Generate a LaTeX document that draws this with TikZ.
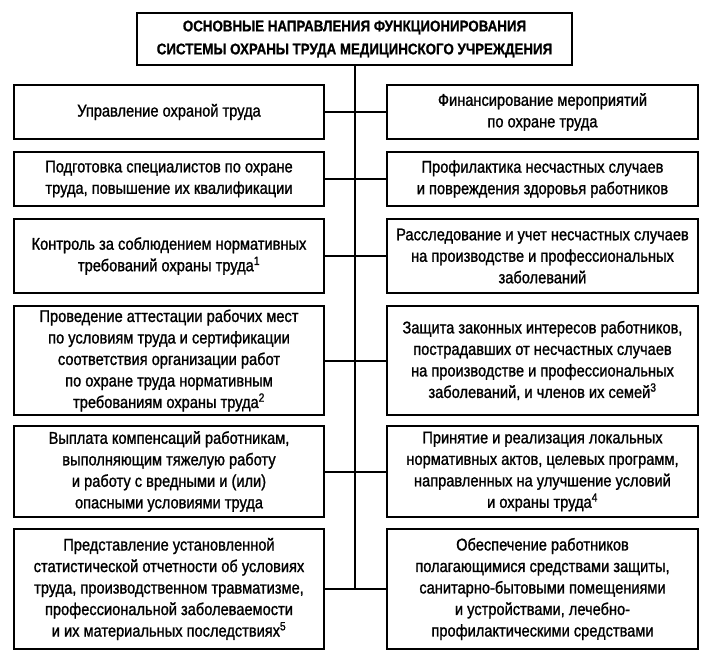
\documentclass[tikz,border=0pt]{standalone}
\usepackage{fontspec}
\setmainfont{Liberation Sans}[FakeStretch=0.86,UprightFeatures={FakeBold=1.2},BoldFeatures={FakeBold=0.8}]

\begin{document}
\begin{tikzpicture}[x=1pt,y=-1pt,
  box/.style={draw,line width=2pt,align=center,inner sep=2pt,
    font=\fontsize{17}{21.5}\selectfont},
  lbox/.style={box,minimum width=310pt},
  rbox/.style={box,minimum width=311pt},
  link/.style={line width=2pt}]
\useasboundingbox (0,0) rectangle (712,654);
%\draw[gray] (0,0) grid[step=50] (712,654);
\node[box,minimum width=435pt,minimum height=52pt,
  font=\bfseries\fontsize{15.5}{23}\selectfont] (title) at (354.5,39)
  {ОСНОВНЫЕ НАПРАВЛЕНИЯ ФУНКЦИОНИРОВАНИЯ\\СИСТЕМЫ ОХРАНЫ ТРУДА МЕДИЦИНСКОГО УЧРЕЖДЕНИЯ};

\node[lbox,minimum height=54pt] (upr) at (169,112) {Управление охраной труда};
\node[rbox,minimum height=54pt] (fin) at (542.5,112) {Финансирование мероприятий\\по охране труда};

\node[lbox,minimum height=54pt] (podg) at (169,179) {Подготовка специалистов по охране\\труда, повышение их квалификации};
\node[rbox,minimum height=54pt] (prof) at (542.5,179) {Профилактика несчастных случаев\\и повреждения здоровья работников};

\node[lbox,minimum height=74pt] (kontr) at (169,256) {Контроль за соблюдением нормативных\\требований охраны труда\textsuperscript{1}};
\node[rbox,minimum height=74pt] (rass) at (542.5,256) {Расследование и учет несчастных случаев\\на производстве и профессиональных\\заболеваний};

\node[lbox,minimum height=109pt] (att) at (169,360.5) {Проведение аттестации рабочих мест\\по условиям труда и сертификации\\соответствия организации работ\\по охране труда нормативным\\требованиям охраны труда\textsuperscript{2}};
\node[rbox,minimum height=109pt] (zash) at (542.5,360.5) {Защита законных интересов работников,\\пострадавших от несчастных случаев\\на производстве и профессиональных\\заболеваний, и членов их семей\textsuperscript{3}};

\node[lbox,minimum height=91pt] (vypl) at (169,471.5) {Выплата компенсаций работникам,\\выполняющим тяжелую работу\\и работу с вредными и (или)\\опасными условиями труда};
\node[rbox,minimum height=91pt] (prin) at (542.5,471.5) {Принятие и реализация локальных\\нормативных актов, целевых программ,\\направленных на улучшение условий\\и охраны труда\textsuperscript{4}};

\node[lbox,minimum height=120pt] (pred) at (169,589) {Представление установленной\\статистической отчетности об условиях\\труда, производственном травматизме,\\профессиональной заболеваемости\\и их материальных последствиях\textsuperscript{5}};
\node[rbox,minimum height=120pt] (obes) at (542.5,589) {Обеспечение работников\\полагающимися средствами защиты,\\санитарно-бытовыми помещениями\\и устройствами, лечебно-\\профилактическими средствами};

\coordinate (end) at (title.south |- pred.east);
\draw[link] (title.south) -- (end);
\foreach \a/\b in {upr/fin,podg/prof,kontr/rass,att/zash,vypl/prin,pred/obes}
  \draw[link] (\a.east) -- (\b.west);
\end{tikzpicture}
\end{document}
